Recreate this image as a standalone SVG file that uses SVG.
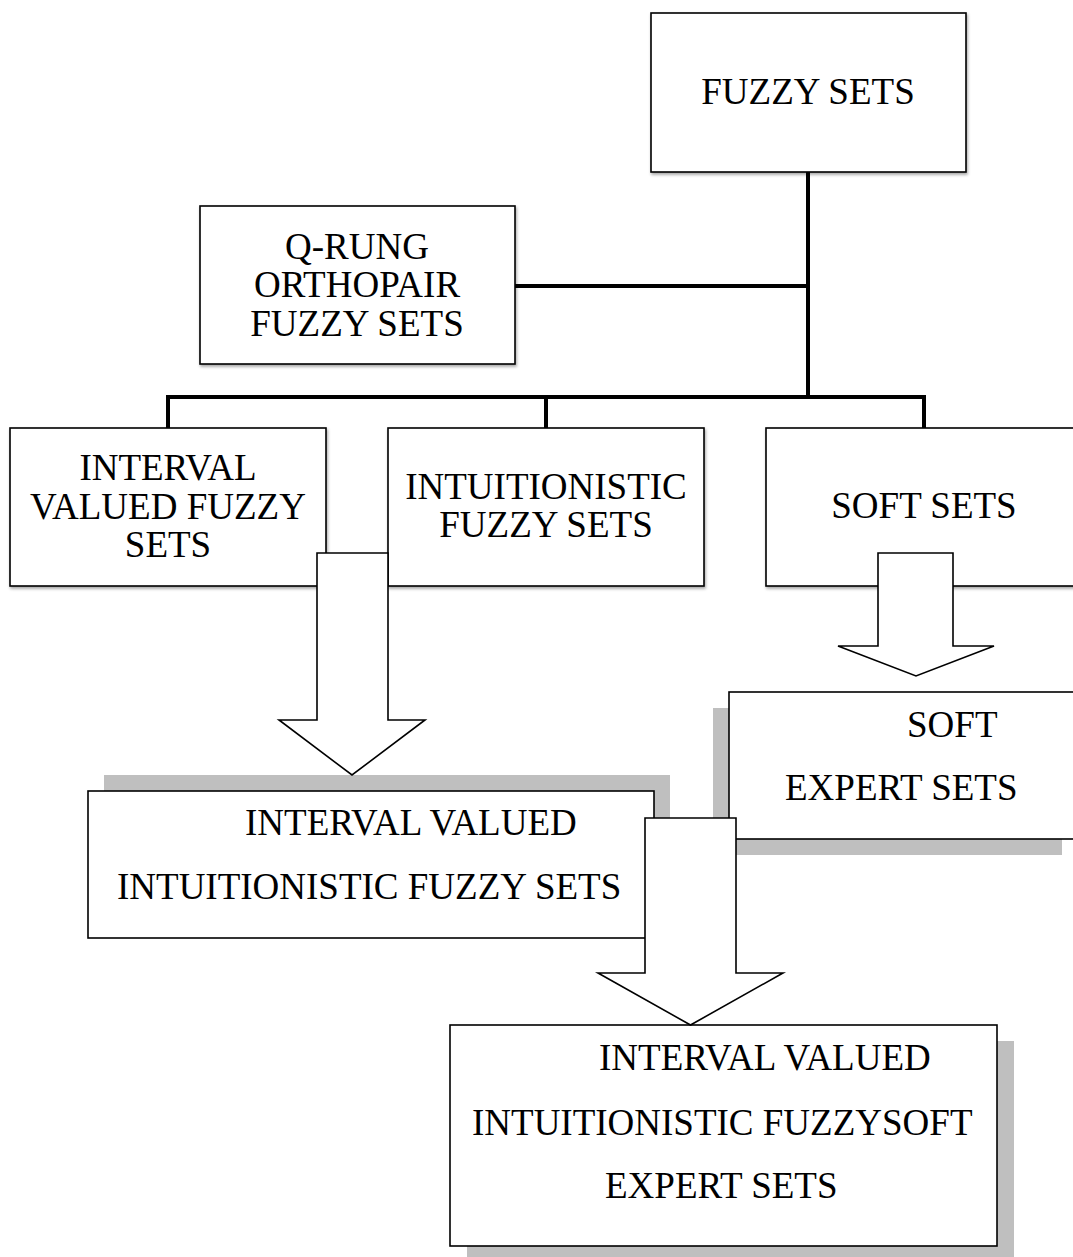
<svg xmlns="http://www.w3.org/2000/svg" width="1073" height="1257" viewBox="0 0 1073 1257">
<defs>
<style>
.box{fill:#fff;stroke:#000;stroke-width:1.6}
.sh{fill:#bfbfbf}
.t{font-family:"Liberation Serif","Times New Roman",serif;font-size:37px;fill:#000}
.c{text-anchor:middle}
.bus{fill:none;stroke:#000;stroke-width:4;stroke-linecap:square}
.arr{fill:#fff;stroke:#000;stroke-width:1.6;stroke-linejoin:miter}
</style>
<filter id="ds" x="-5%" y="-5%" width="115%" height="120%">
<feDropShadow dx="1" dy="2" stdDeviation="1.5" flood-color="#000" flood-opacity="0.35"/>
</filter>
</defs>
<rect width="1073" height="1257" fill="#fff"/>

<g id="connectors-lines">
<path class="bus" d="M808,172 V397 M515,286 H808 M168,428 V397 H924 V428 M546,397 V428"/>
</g>

<g id="n-fuzzy">
<rect class="box" x="651" y="13" width="315" height="159" filter="url(#ds)"/>
<text class="t c" x="808" y="104">FUZZY SETS</text>
</g>

<g id="n-qrung">
<rect class="box" x="200" y="206" width="315" height="158" filter="url(#ds)"/>
<text class="t c" x="357" y="259">Q-RUNG</text>
<text class="t c" x="357" y="297">ORTHOPAIR</text>
<text class="t c" x="357" y="336">FUZZY SETS</text>
</g>

<g id="n-ivfs">
<rect class="box" x="10" y="428" width="316" height="158" filter="url(#ds)"/>
<text class="t c" x="168" y="480">INTERVAL</text>
<text class="t c" x="168" y="519">VALUED FUZZY</text>
<text class="t c" x="168" y="557">SETS</text>
</g>

<g id="n-ifs">
<rect class="box" x="388" y="428" width="316" height="158" filter="url(#ds)"/>
<text class="t c" x="546" y="499">INTUITIONISTIC</text>
<text class="t c" x="546" y="537">FUZZY SETS</text>
</g>

<g id="n-soft">
<rect class="box" x="766" y="428" width="320" height="158" filter="url(#ds)"/>
<text class="t c" x="924" y="518">SOFT SETS</text>
</g>

<g id="n-softexpert">
<rect class="sh" x="713" y="708" width="349" height="147"/>
<rect class="box" x="729" y="692" width="360" height="147"/>
<text class="t" x="907" y="737">SOFT</text>
<text class="t" x="785" y="800">EXPERT SETS</text>
</g>

<g id="n-ivifs">
<rect class="sh" x="104" y="775" width="566" height="147"/>
<rect class="box" x="88" y="791" width="566" height="147"/>
<text class="t" x="245" y="835">INTERVAL VALUED</text>
<text class="t" x="117" y="899">INTUITIONISTIC FUZZY SETS</text>
</g>

<g id="n-ivifsses">
<rect class="sh" x="467" y="1041" width="547" height="216"/>
<rect class="box" x="450" y="1025" width="547" height="221"/>
<text class="t" x="599" y="1070">INTERVAL VALUED</text>
<text class="t" x="472" y="1135">INTUITIONISTIC FUZZYSOFT</text>
<text class="t" x="605" y="1198">EXPERT SETS</text>
</g>

<g id="connectors-arrows">
<path class="arr" d="M317,553 H388 V720 H425 L352,775 L279,720 H317 Z"/>
<path class="arr" d="M878,553 H953 V646 H994 L916,676 L838,646 H878 Z"/>
<path class="arr" d="M645,818 H736 V973 H783 L690.5,1025 L598,973 H645 Z"/>
</g>
</svg>
